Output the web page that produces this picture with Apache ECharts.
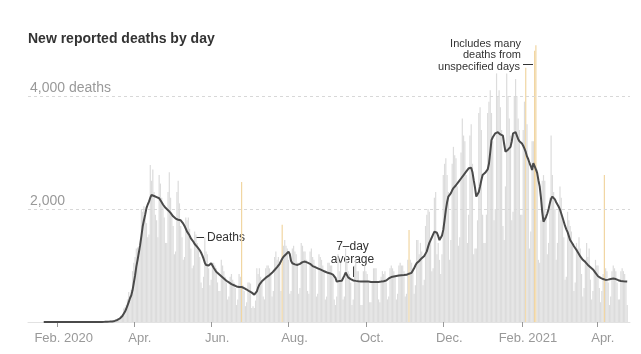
<!DOCTYPE html>
<html><head><meta charset="utf-8">
<script src="https://cdn.jsdelivr.net/npm/echarts@6/dist/echarts.min.js"></script>
<style>html,body{margin:0;padding:0;background:#fff}#c{width:641px;height:354px}</style>
</head><body><div id="c"></div>
<script>
// First day of data: 2020-01-21, one value per day through 2021-04-25
const startDate = [2020, 0, 21];

const dailyDeaths = [
0,0,0,0,0,
0,0,0,0,0,0,0, 0,0,0,0,0,0,0, 0,0,0,0,0,0,0, 0,0,0,0,0,0,0,
0,0,0,0,0,0,1,
1,1,3,2,1,3,2,
4,4,8,6,8,9,10,
12,20,26,40,55,62,75,
115,140,240,260,300,400,530,
470,570,900,1050,1150,1300,1320,
1170,1300,2000,1950,2050,2000,1750,
1500,1550,2780,2500,2700,2300,1900,
1800,1500,2600,2450,2200,2100,1850,
1400,1400,2300,2650,2200,1900,1700,
1200,1250,2300,2500,2100,1700,1500,
1100,1150,1850,1800,1850,1650,1300,
950,1000,1600,1550,1400,1300,1150,
700,600,800,1500,1250,1200,950,
650,750,1050,1050,1000,950,700,
550,550,1100,1000,900,800,700,
400,450,800,850,750,700,600,
300,400,850,800,2480,650,550,
280,350,700,700,680,250,280,
250,380,950,850,950,800,700,
450,400,950,1000,1000,950,850,
450,550,1150,1250,1100,1150,1050,
550,1720,1350,1450,1350,1300,1100,
500,550,1300,1350,1250,1200,1050,
500,600,1400,1350,1250,1250,1100,
550,500,1250,1300,1150,1100,1000,
450,500,1200,1150,1100,1000,900,
400,450,1050,1050,1000,1000,800,
400,300,450,1200,900,1050,750,
400,450,1300,1100,900,850,700,
300,400,1000,1100,900,900,700,
300,300,900,1000,900,850,700,
350,350,700,950,950,950,700,
400,350,800,900,850,900,700,
400,450,950,1000,950,900,800,
400,500,1000,1050,1000,1000,900,
450,500,1100,1630,1100,1050,950,
500,650,1450,1450,1200,1400,1250,
650,750,1700,1900,2000,1950,1450,
900,950,2200,2300,1200,1400,1100,
850,1200,2600,2800,2900,2600,2300,
1100,1450,2800,3100,2950,2900,2400,
1350,1500,3000,3600,3300,3200,2600,
1400,1900,3300,3500,2800,1200,1300,
1300,1800,3700,3800,3400,1900,1400,
1400,1900,3700,3900,4100,3700,3200,
1800,2000,4400,4000,4100,3800,3400,
1700,1450,2400,4400,4000,3600,3300,
1800,1950,4000,4300,4000,3600,3400,
1900,1900,3400,3900,4500,3500,2800,
1300,1600,3200,3200,4800,4900,2700,
1100,1050,1800,2500,2600,2500,1900,
1200,1400,2200,3300,2600,2300,2000,
1100,1400,2000,2400,2200,1800,1500,
750,800,1950,1800,1700,1600,1400,
550,700,1400,1300,1500,1300,850,
450,600,1100,1400,1150,1300,750,
400,550,900,1100,1000,1000,600,
350,550,850,2600,950,900,700,
300,450,900,1000,950,900,700,
400,400,900,950,900,850,700,
300
];

const sevenDayAvg = [
0,0,0,0,0,
0,0,0,0,0,0,0, 0,0,0,0,0,0,0, 0,0,0,0,0,0,0, 0,0,0,0,0,0,0,
0,0,0,0,0,0,0,
1,1,1,1,2,2,2,
3,3,4,5,6,7,8,
10,14,19,27,36,48,62,
80,105,140,180,230,290,350,
420,470,560,690,820,980,1100,
1230,1360,1520,1690,1800,1900,2015,
2080,2130,2200,2248,2240,2230,2200,
2210,2180,2190,2170,2120,2080,2050,
2020,2000,1980,1960,1930,1900,1870,
1850,1830,1820,1810,1800,1800,1780,
1740,1700,1650,1600,1570,1530,1480,
1450,1420,1380,1350,1330,1300,1270,
1230,1180,1120,1050,1010,990,1000,
1020,1040,1000,960,930,890,870,
850,830,810,790,770,750,730,
720,700,690,670,660,650,640,
630,625,620,625,620,610,600,
590,575,560,545,540,520,500,
485,478,540,610,660,690,720,
740,760,780,800,810,830,850,
870,890,920,950,970,1000,1030,
1060,1120,1156,1180,1200,1230,1245,
1200,1080,1040,1030,1020,1010,1010,
1020,1030,1050,1060,1070,1070,1060,
1050,1040,1030,1010,990,980,970,
960,950,940,930,920,910,900,
890,880,870,865,860,850,840,
820,780,715,720,725,730,730,
760,820,875,840,790,770,760,
745,735,730,728,725,722,720,
718,716,715,714,715,716,715,
712,710,708,706,705,706,708,
710,712,715,718,722,728,735,
750,770,790,795,800,805,810,
815,820,822,825,828,830,830,
830,835,845,855,860,870,900,
950,1000,1040,1065,1080,1100,1130,
1150,1170,1185,1250,1330,1400,1450,
1500,1550,1600,1630,1580,1520,1450,
1440,1530,1630,1800,1980,2120,2220,
2240,2280,2330,2370,2400,2420,2450,
2480,2510,2540,2570,2600,2630,2660,
2690,2720,2750,2730,2650,2510,2380,
2220,2250,2300,2400,2510,2600,2630,
2640,2660,2700,2800,3000,3220,3270,
3300,3340,3370,3360,3340,3320,3310,
3300,3150,3015,3030,3050,3070,3100,
3200,3340,3370,3360,3300,3240,3200,
3180,3160,3120,3070,3010,2930,2880,
2810,2760,2690,2810,2760,2700,2640,
2510,2400,2200,1950,1775,1810,1860,
1920,2000,2100,2180,2220,2200,2170,
2120,2080,2040,1990,1920,1850,1775,
1700,1640,1590,1520,1450,1420,1380,
1340,1310,1275,1240,1200,1160,1130,
1100,1080,1060,1030,1010,990,970,
950,930,900,870,840,810,790,
780,770,760,755,745,745,750,
755,760,765,770,765,760,750,
740,730,725,722,720,718,716,
715
];

// Days whose count includes many deaths from unspecified days
const backlogDays = ['2020-06-25','2020-07-27','2020-11-04','2021-02-04','2021-02-11','2021-02-12','2021-04-07'];

const xTickDates = [[2020,1,1],[2020,3,1],[2020,5,1],[2020,7,1],[2020,9,1],[2020,11,1],[2021,1,1],[2021,3,1]];
const xTickLabels = ['Feb. 2020','Apr.','Jun.','Aug.','Oct.','Dec.','Feb. 2021','Apr.'];
const yGridValues = [2000, 4000];
const yGridLabels = ['2,000', '4,000 deaths'];

const FONT = 'Liberation Sans, Arial, sans-serif';
const DAY = 86400000;
const refTs = Date.UTC(2020, 1, 1);           // day 0 of the x scale (Feb 1, 2020)
function dayNum(y, m, d) { return Math.round((Date.UTC(y, m, d) - refTs) / DAY); }
function key(n) { return new Date(refTs + n * DAY).toISOString().slice(0, 10); }

const day0 = dayNum(startDate[0], startDate[1], startDate[2]);
const xDays = dailyDeaths.map((_, i) => day0 + i);
const barData = dailyDeaths.map((v, i) => ({
  value: [xDays[i], v],
  itemStyle: { color: backlogDays.indexOf(key(xDays[i])) >= 0 ? '#f1d6a2' : '#dcdcdc' }
}));
const lineData = sevenDayAvg.map((v, i) => [xDays[i], v]);
const tickDays = xTickDates.map(d => dayNum(d[0], d[1], d[2]));

const chart = echarts.init(document.getElementById('c'), null, { renderer: 'canvas' });
chart.setOption({
  animation: false,
  backgroundColor: '#fff',
  textStyle: { fontFamily: FONT },
  title: {
    text: 'New reported deaths by day', left: 28, top: 32, padding: 0,
    textStyle: { fontSize: 14, fontWeight: 'bold', color: '#333', fontFamily: FONT }
  },
  grid: { left: 28, right: 11, top: 39.5, bottom: 32 },
  xAxis: {
    type: 'value',
    min: -23.4, max: 451.2,
    axisLine: { show: true, onZero: false, lineStyle: { color: '#e2e2e2', width: 1 } },
    axisTick: { show: true, customValues: tickDays, length: 5, lineStyle: { color: '#999' } },
    axisLabel: {
      customValues: tickDays, color: '#999', fontSize: 13, margin: 10, fontFamily: FONT,
      padding: [0, 0, 0, 12],
      formatter: function (v) { const i = tickDays.indexOf(Math.round(v)); return i >= 0 ? xTickLabels[i] : ''; }
    },
    splitLine: { show: false }
  },
  yAxis: {
    type: 'value', min: 0, max: 5000,
    axisLine: { show: false }, axisTick: { show: false }, axisLabel: { show: false },
    splitLine: { show: false }
  },
  series: [
    {
      type: 'bar', data: barData, barWidth: 1.2, silent: true, z: 2,
      markLine: {
        silent: true, symbol: ['none', 'none'],
        lineStyle: { type: [3, 3], color: '#d8d8d8', width: 1 },
        label: {
          position: 'insideStartTop', color: '#999', fontSize: 14, fontFamily: FONT,
          distance: [2, 1],
          formatter: function (p) { return yGridLabels[yGridValues.indexOf(p.value)]; }
        },
        data: yGridValues.map(v => ({ yAxis: v }))
      }
    },
    {
      type: 'line', data: lineData, showSymbol: false, silent: true, z: 5,
      lineStyle: { color: '#4a4a4a', width: 2 }
    }
  ],
  graphic: [
    { type: 'line', shape: { x1: 196, y1: 237.5, x2: 204, y2: 237.5 }, style: { stroke: '#333', lineWidth: 1 } },
    { type: 'text', x: 207, y: 238, style: { text: 'Deaths', fill: '#333', font: '12px ' + FONT, textVerticalAlign: 'middle' } },
    { type: 'text', x: 352.5, y: 247, style: { text: '7–day', fill: '#333', font: '12px ' + FONT, textAlign: 'center', textVerticalAlign: 'middle' } },
    { type: 'text', x: 352.5, y: 259.5, style: { text: 'average', fill: '#333', font: '12px ' + FONT, textAlign: 'center', textVerticalAlign: 'middle' } },
    { type: 'line', shape: { x1: 353.5, y1: 266.5, x2: 353.5, y2: 277 }, style: { stroke: '#333', lineWidth: 1 } },
    { type: 'text', x: 521, y: 43.5, style: { text: 'Includes many', fill: '#333', font: '11px ' + FONT, textAlign: 'right', textVerticalAlign: 'middle' } },
    { type: 'text', x: 521, y: 55, style: { text: 'deaths from', fill: '#333', font: '11px ' + FONT, textAlign: 'right', textVerticalAlign: 'middle' } },
    { type: 'text', x: 520, y: 66.5, style: { text: 'unspecified days', fill: '#333', font: '11px ' + FONT, textAlign: 'right', textVerticalAlign: 'middle' } },
    { type: 'line', shape: { x1: 523, y1: 64.5, x2: 533, y2: 64.5 }, style: { stroke: '#333', lineWidth: 1 } }
  ]
});
</script></body></html>
